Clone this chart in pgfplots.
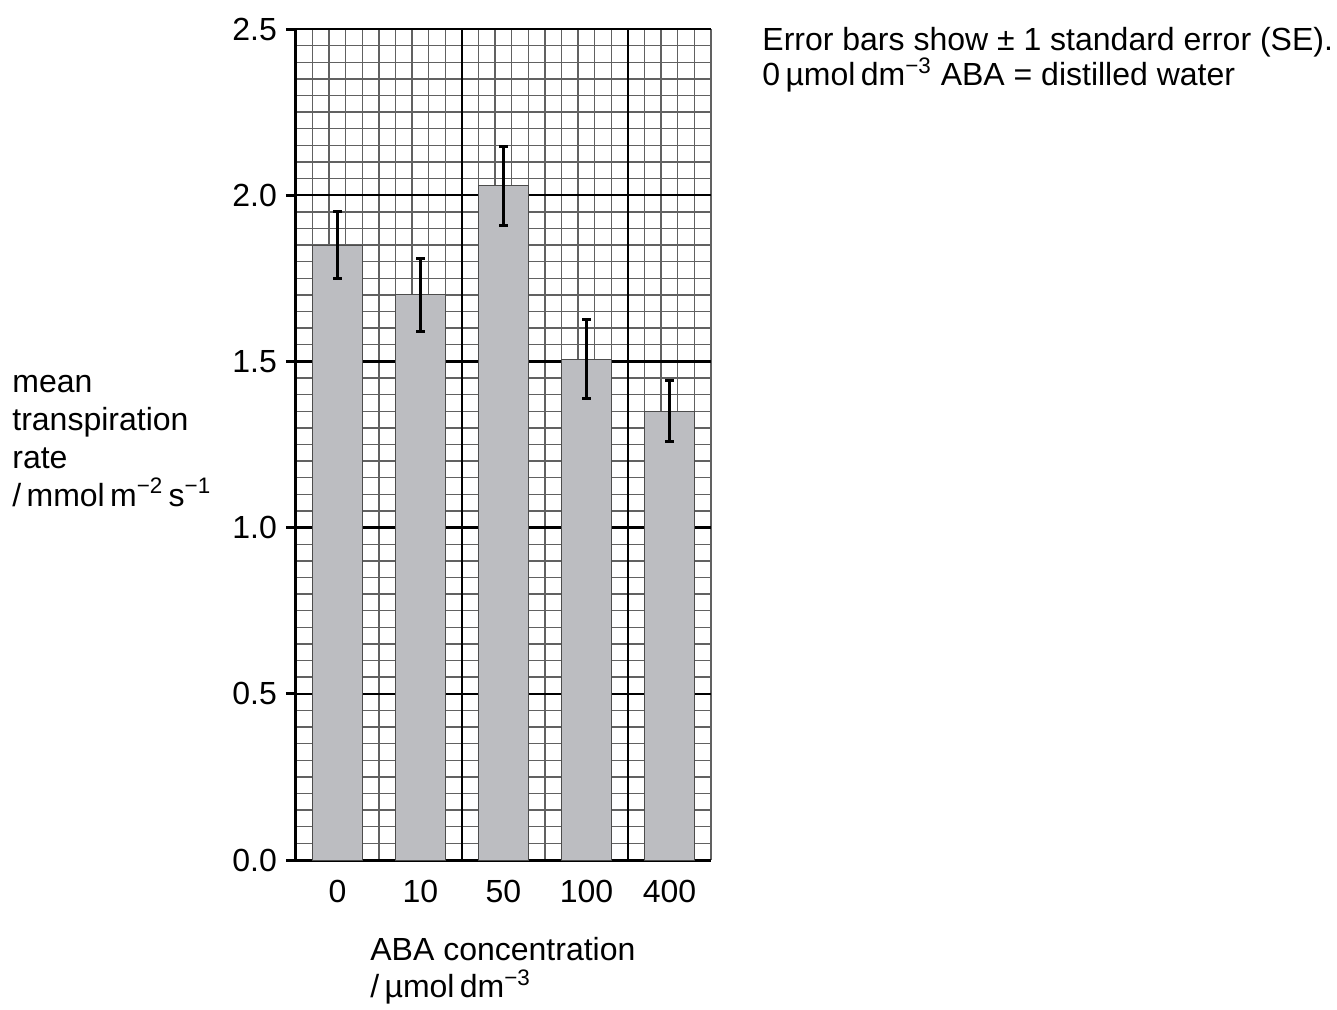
\documentclass[border=0pt]{standalone}
\usepackage{fontspec}
\setmainfont{Liberation Sans}
\usepackage{pgfplots}
\pgfplotsset{compat=1.18}
\definecolor{barfill}{HTML}{BCBDC1}
\begin{document}
\fontsize{16}{19}\selectfont
\begin{tikzpicture}
\path[use as bounding box] (-148pt,-74.5pt) rectangle (520.5pt,430pt);
\begin{axis}[
  at={(0pt,0pt)}, anchor=south west,
  scale only axis, width=207.5pt, height=415.5pt,
  xmin=0, xmax=25, ymin=0, ymax=2.5,
  ybar, bar width=3,
  axis x line*=bottom, axis y line*=left,
  axis line style={-, line width=1.5pt, black},
  xtick={2.5,7.5,12.5,17.5,22.5},
  xticklabels={0,10,50,100,400},
  x tick style={draw=none},
  minor xtick={0,1,...,25},
  extra x ticks={10,20}, extra x tick labels={},
  extra x tick style={grid=major, major tick length=0pt, tick style={draw=none}},
  ytick={0,0.5,1,1.5,2,2.5},
  minor y tick num=9,
  ymajorgrids=true, yminorgrids=true, xminorgrids=true,
  major grid style={black, line width=1.2pt},
  minor grid style={black!62, line width=0.7pt},
  y tick style={black, line width=1.5pt},
  major tick length=5pt, minor tick length=0pt,
  tick align=outside,
  /pgf/number format/assume math mode=true,
  yticklabel style={/pgf/number format/.cd, fixed, fixed zerofill, precision=1, /tikz/.cd, xshift=1pt},
  ticklabel style={font=\fontsize{16}{18}\selectfont},
  xticklabel style={yshift=0.5pt},
]
\addplot[fill=barfill, draw=black!70, line width=0.5pt,
  error bars/.cd, y dir=both, y explicit,
  error bar style={line width=1.5pt, black},
  error mark options={rotate=90, mark size=2.2pt, line width=1.5pt, black}]
  table[x=x, y=y, y error=e] {
x y e
2.5 1.850 0.100
7.5 1.700 0.110
12.5 2.028 0.120
17.5 1.507 0.119
22.5 1.350 0.092
};
\end{axis}
\node[anchor=west, align=left, inner sep=0, font=\fontsize{16}{19}\selectfont] at (-142pt,209.5pt)
  {mean\\transpiration\\rate\\/\,mmol\,m\textsuperscript{−2}\,s\textsuperscript{−1}};
\node[anchor=west, align=left, inner sep=0, font=\fontsize{16}{18.5}\selectfont] at (37pt,-55.5pt)
  {ABA concentration\\/\,µmol\,dm\textsuperscript{−3}};
\node[anchor=west, align=left, inner sep=0, font=\fontsize{16}{17.5}\selectfont] at (233pt,400pt)
  {Error bars show ± 1 standard error (SE).\\0\,µmol\,dm\textsuperscript{−3} ABA = distilled water};
\end{tikzpicture}
\end{document}
